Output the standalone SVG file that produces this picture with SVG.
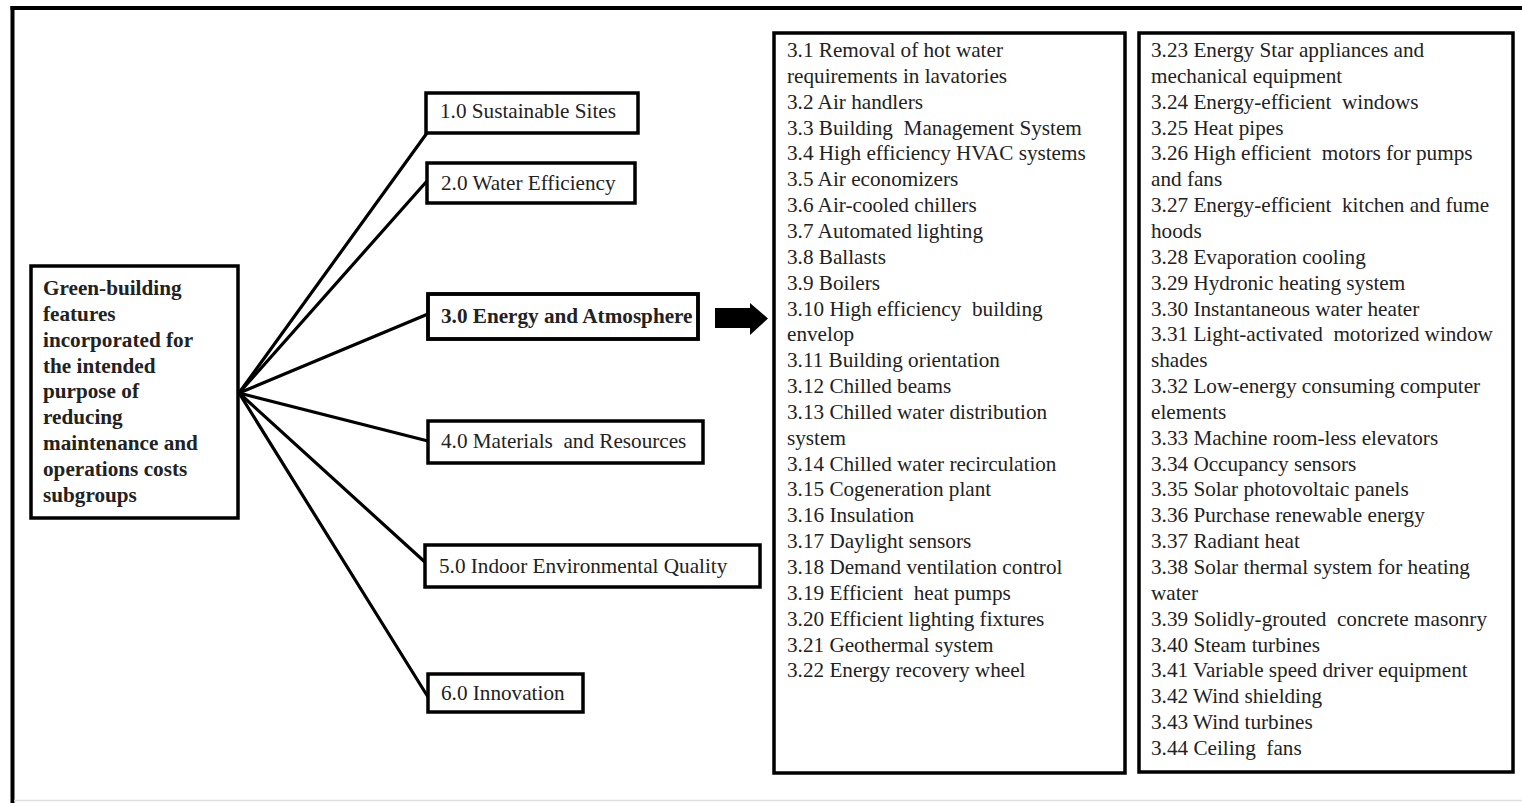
<svg xmlns="http://www.w3.org/2000/svg" width="1522" height="803" viewBox="0 0 1522 803">
  <style>
    .box { fill: #ffffff; stroke: #000000; stroke-width: 3.5; }
    .outline { fill: none; stroke: #000000; stroke-width: 3.5; }
    .txt { font-family: "Liberation Serif", "Times New Roman", serif; font-size: 21.2px; fill: #222222; }
    .bold { font-weight: bold; }
    .link { stroke: #000000; stroke-width: 3.2; fill: none; stroke-linecap: round; }
  </style>

  <rect x="0" y="0" width="1522" height="803" fill="#ffffff"/>

  <!-- page frame -->
  <g id="frame">
    <line x1="10.5" y1="8" x2="1522" y2="8" stroke="#000" stroke-width="4"/>
    <line x1="12.5" y1="6" x2="12.5" y2="803" stroke="#000" stroke-width="4"/>
    <line x1="14" y1="800.5" x2="1522" y2="800.5" stroke="#dddddd" stroke-width="1.5"/>
  </g>

  <!-- connectors from the root to each category -->
  <g id="connectors">
    <line class="link" x1="239" y1="393" x2="427" y2="133"/>
    <line class="link" x1="239" y1="393" x2="427" y2="181"/>
    <line class="link" x1="239" y1="393" x2="428" y2="314"/>
    <line class="link" x1="239" y1="393" x2="428" y2="441"/>
    <line class="link" x1="239" y1="393" x2="426" y2="563"/>
    <line class="link" x1="239" y1="393" x2="428" y2="697"/>
    <polygon points="715,308 750,308 750,303 768,318.5 750,335 750,328 715,328" fill="#000"/>
  </g>

  <!-- root node -->
  <g id="root">
    <rect class="box" x="31" y="266" width="207" height="252"/>
    <text class="txt bold" x="43">
      <tspan x="43" y="295">Green-building</tspan>
      <tspan x="43" y="321">features</tspan>
      <tspan x="43" y="347">incorporated for</tspan>
      <tspan x="43" y="373">the intended</tspan>
      <tspan x="43" y="398">purpose of</tspan>
      <tspan x="43" y="424">reducing</tspan>
      <tspan x="43" y="450">maintenance and</tspan>
      <tspan x="43" y="476">operations costs</tspan>
      <tspan x="43" y="502">subgroups</tspan>
    </text>
  </g>

  <!-- category nodes -->
  <g id="n1">
    <rect class="box" x="426" y="93" width="212" height="40"/>
    <text class="txt" x="440" y="118">1.0 Sustainable Sites</text>
  </g>
  <g id="n2">
    <rect class="box" x="427" y="163" width="208" height="40"/>
    <text class="txt" x="441" y="190">2.0 Water Efficiency</text>
  </g>
  <g id="n3">
    <rect class="box" x="428" y="294" width="270" height="45"/>
    <text class="txt bold" x="441" y="323">3.0 Energy and Atmosphere</text>
    <rect class="outline" x="428" y="294" width="270" height="45"/>
  </g>
  <g id="n4">
    <rect class="box" x="428" y="421" width="275" height="42"/>
    <text class="txt" x="441" y="448" xml:space="preserve">4.0 Materials  and Resources</text>
  </g>
  <g id="n5">
    <rect class="box" x="425" y="545" width="335" height="42"/>
    <text class="txt" x="439" y="573">5.0 Indoor Environmental Quality</text>
  </g>
  <g id="n6">
    <rect class="box" x="428" y="674" width="155" height="38"/>
    <text class="txt" x="441" y="700">6.0 Innovation</text>
  </g>

  <!-- energy and atmosphere item list, first column -->
  <g id="list-a">
    <rect class="box" x="774" y="33" width="351" height="740"/>
    <text class="txt" xml:space="preserve">
      <tspan x="787" y="57">3.1 Removal of hot water</tspan>
      <tspan x="787" y="82.85">requirements in lavatories</tspan>
      <tspan x="787" y="108.7">3.2 Air handlers</tspan>
      <tspan x="787" y="134.55">3.3 Building  Management System</tspan>
      <tspan x="787" y="160.4">3.4 High efficiency HVAC systems</tspan>
      <tspan x="787" y="186.25">3.5 Air economizers</tspan>
      <tspan x="787" y="212.1">3.6 Air-cooled chillers</tspan>
      <tspan x="787" y="237.95">3.7 Automated lighting</tspan>
      <tspan x="787" y="263.8">3.8 Ballasts</tspan>
      <tspan x="787" y="289.65">3.9 Boilers</tspan>
      <tspan x="787" y="315.5">3.10 High efficiency  building</tspan>
      <tspan x="787" y="341.35">envelop</tspan>
      <tspan x="787" y="367.2">3.11 Building orientation</tspan>
      <tspan x="787" y="393.05">3.12 Chilled beams</tspan>
      <tspan x="787" y="418.9">3.13 Chilled water distribution</tspan>
      <tspan x="787" y="444.75">system</tspan>
      <tspan x="787" y="470.6">3.14 Chilled water recirculation</tspan>
      <tspan x="787" y="496.45">3.15 Cogeneration plant</tspan>
      <tspan x="787" y="522.3">3.16 Insulation</tspan>
      <tspan x="787" y="548.15">3.17 Daylight sensors</tspan>
      <tspan x="787" y="574">3.18 Demand ventilation control</tspan>
      <tspan x="787" y="599.85">3.19 Efficient  heat pumps</tspan>
      <tspan x="787" y="625.7">3.20 Efficient lighting fixtures</tspan>
      <tspan x="787" y="651.55">3.21 Geothermal system</tspan>
      <tspan x="787" y="677.4">3.22 Energy recovery wheel</tspan>
    </text>
  </g>

  <!-- energy and atmosphere item list, second column -->
  <g id="list-b">
    <rect class="box" x="1139" y="33" width="374" height="739"/>
    <text class="txt" xml:space="preserve">
      <tspan x="1151" y="57">3.23 Energy Star appliances and</tspan>
      <tspan x="1151" y="82.85">mechanical equipment</tspan>
      <tspan x="1151" y="108.7">3.24 Energy-efficient  windows</tspan>
      <tspan x="1151" y="134.55">3.25 Heat pipes</tspan>
      <tspan x="1151" y="160.4">3.26 High efficient  motors for pumps</tspan>
      <tspan x="1151" y="186.25">and fans</tspan>
      <tspan x="1151" y="212.1">3.27 Energy-efficient  kitchen and fume</tspan>
      <tspan x="1151" y="237.95">hoods</tspan>
      <tspan x="1151" y="263.8">3.28 Evaporation cooling</tspan>
      <tspan x="1151" y="289.65">3.29 Hydronic heating system</tspan>
      <tspan x="1151" y="315.5">3.30 Instantaneous water heater</tspan>
      <tspan x="1151" y="341.35">3.31 Light-activated  motorized window</tspan>
      <tspan x="1151" y="367.2">shades</tspan>
      <tspan x="1151" y="393.05">3.32 Low-energy consuming computer</tspan>
      <tspan x="1151" y="418.9">elements</tspan>
      <tspan x="1151" y="444.75">3.33 Machine room-less elevators</tspan>
      <tspan x="1151" y="470.6">3.34 Occupancy sensors</tspan>
      <tspan x="1151" y="496.45">3.35 Solar photovoltaic panels</tspan>
      <tspan x="1151" y="522.3">3.36 Purchase renewable energy</tspan>
      <tspan x="1151" y="548.15">3.37 Radiant heat</tspan>
      <tspan x="1151" y="574">3.38 Solar thermal system for heating</tspan>
      <tspan x="1151" y="599.85">water</tspan>
      <tspan x="1151" y="625.7">3.39 Solidly-grouted  concrete masonry</tspan>
      <tspan x="1151" y="651.55">3.40 Steam turbines</tspan>
      <tspan x="1151" y="677.4">3.41 Variable speed driver equipment</tspan>
      <tspan x="1151" y="703.25">3.42 Wind shielding</tspan>
      <tspan x="1151" y="729.1">3.43 Wind turbines</tspan>
      <tspan x="1151" y="754.95">3.44 Ceiling  fans</tspan>
    </text>
  </g>
</svg>
